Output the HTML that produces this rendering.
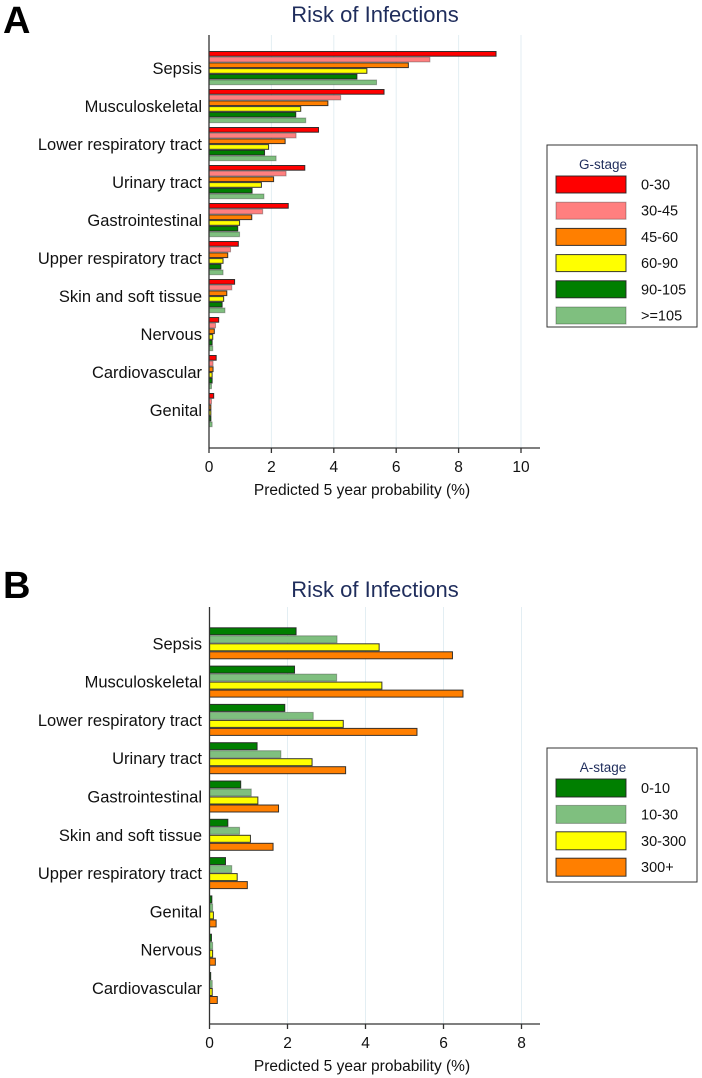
<!DOCTYPE html>
<html><head><meta charset="utf-8">
<style>
html,body{margin:0;padding:0;background:#fff;}
svg{display:block;font-family:"Liberation Sans",Arial,sans-serif;}
</style></head>
<body>
<svg id="c" width="702" height="1078" viewBox="0 0 702 1078" xmlns="http://www.w3.org/2000/svg"></svg>
<script>
// ---- Panel A data ----
const catsA = ["Sepsis","Musculoskeletal","Lower respiratory tract","Urinary tract","Gastrointestinal","Upper respiratory tract","Skin and soft tissue","Nervous","Cardiovascular","Genital"];
const seriesA = ["0-30","30-45","45-60","60-90","90-105",">=105"];
const g0_30   = [9.2,5.61,3.51,3.07,2.54,0.94,0.82,0.31,0.23,0.15];
const g30_45  = [7.08,4.22,2.79,2.47,1.72,0.69,0.73,0.21,0.13,0.08];
const g45_60  = [6.39,3.81,2.44,2.07,1.37,0.60,0.57,0.17,0.13,0.06];
const g60_90  = [5.06,2.94,1.91,1.68,0.98,0.45,0.47,0.12,0.10,0.06];
const g90_105 = [4.74,2.78,1.78,1.38,0.92,0.38,0.42,0.10,0.10,0.06];
const g105    = [5.37,3.10,2.15,1.76,0.98,0.45,0.51,0.12,0.08,0.10];
const ticksA = [0,2,4,6,8,10];
// ---- Panel B data ----
const catsB = ["Sepsis","Musculoskeletal","Lower respiratory tract","Urinary tract","Gastrointestinal","Skin and soft tissue","Upper respiratory tract","Genital","Nervous","Cardiovascular"];
const seriesB = ["0-10","10-30","30-300","300+"];
const a0_10   = [2.22,2.18,1.93,1.22,0.80,0.47,0.41,0.06,0.05,0.03];
const a10_30  = [3.27,3.26,2.66,1.83,1.07,0.77,0.57,0.08,0.08,0.07];
const a30_300 = [4.35,4.42,3.43,2.63,1.24,1.05,0.71,0.10,0.08,0.07];
const a300    = [6.23,6.50,5.32,3.49,1.77,1.63,0.97,0.17,0.15,0.20];
const ticksB = [0,2,4,6,8];

const NS="http://www.w3.org/2000/svg";
const svg=document.getElementById('c');
function mk(tag,attrs,parent){const e=document.createElementNS(NS,tag);for(const k in attrs)e.setAttribute(k,attrs[k]);(parent||svg).appendChild(e);return e;}

function panel(o){
  const g=mk('g',{});
  
  
  const x=v=>o.x0+v*o.ppu;
  const L=mk('text',{x:3,y:o.letterY,'font-size':38,'font-weight':'bold',fill:'#000'},g);
  L.textContent=o.letter;
  
  
  const T=mk('text',{x:375,y:o.titleY,'font-size':22,fill:'#1f2d5c','text-anchor':'middle'},g);
  T.textContent='Risk of Infections';
  
  
  o.ticks.forEach(t=>{
    if(t>0){const gl=mk('line',{x1:x(t),x2:x(t),y1:o.top,y2:o.axisY,stroke:'#e3eef3','stroke-width':1},g);
      
      }
  });
  o.series.forEach((vals,si)=>{
    vals.forEach((v,ci)=>{
      const y=o.groupStart+ci*o.groupStep+si*o.barH;
      const r=mk('rect',{x:x(0),y:y+0.5,width:Math.max(x(v)-x(0),0.5),height:o.barH-1,fill:o.colors[si],stroke:'#222','stroke-opacity':o.strokeOp[si],'stroke-width':1},g);
      
      
    });
  });
  o.cats.forEach((c,ci)=>{
    const cy=o.groupStart+ci*o.groupStep+o.series.length*o.barH/2;
    const t=mk('text',{x:202,y:cy+6,'font-size':16.5,fill:'#111','text-anchor':'end'},g);
    t.textContent=c;
    
    
  });
  const ya=mk('line',{x1:o.x0,x2:o.x0,y1:o.top,y2:o.axisY,stroke:'#333','stroke-width':1.3},g);
  
  
  const xa=mk('line',{x1:o.x0,x2:540,y1:o.axisY,y2:o.axisY,stroke:'#333','stroke-width':1.3},g);
  
  
  o.ticks.forEach(t=>{
    const tk=mk('line',{x1:x(t),x2:x(t),y1:o.axisY,y2:o.axisY+5,stroke:'#333','stroke-width':1.3},g);
    
    
    const tl=mk('text',{x:x(t),y:o.axisY+24,'font-size':15.5,fill:'#111','text-anchor':'middle'},g);
    tl.textContent=String(t);
    
    
  });
  const xt=mk('text',{x:362,y:o.axisY+47,'font-size':15.5,fill:'#111','text-anchor':'middle'},g);
  xt.textContent='Predicted 5 year probability (%)';
  
  
  const lg=mk('g',{},g);
  
  
  mk('rect',{x:547,y:o.legY,width:150,height:o.legH,fill:'#fff',stroke:'#333','stroke-width':1},lg);
  const lt=mk('text',{x:603,y:o.legY+24,'font-size':13.5,fill:'#1f2d5c','text-anchor':'middle'},lg);
  lt.textContent=o.legTitle;
  
  
  o.names.forEach((n,i)=>{
    const yy=o.legY+31+i*o.legStep;
    const sw=mk('rect',{x:556,y:yy,width:70,height:o.swH,fill:o.colors[i],stroke:'#222','stroke-opacity':o.strokeOp[i],'stroke-width':1},lg);
    
    
    const tx=mk('text',{x:641,y:yy+o.swH/2+5,'font-size':14.5,fill:'#111'},lg);
    tx.textContent=n;
    
    
  });
}

panel({letter:'A',letterY:33,titleY:22,x0:209,ppu:31.2,top:35,axisY:448,
  groupStart:51,groupStep:38,barH:5.7,ticks:ticksA,cats:catsA,names:seriesA,
  series:[g0_30,g30_45,g45_60,g60_90,g90_105,g105],
  colors:['#ff0000','#ff7f7f','#ff7f00','#ffff00','#007f00','#7fbf7f'],
  strokeOp:[0.9,0.35,0.9,0.9,0.9,0.35],
  legY:145,legH:182,legStep:26.2,swH:17,legTitle:'G-stage'});
panel({letter:'B',letterY:598,titleY:597,x0:209.5,ppu:39,top:607,axisY:1024,
  groupStart:627.3,groupStep:38.3,barH:8,ticks:ticksB,cats:catsB,names:seriesB,
  series:[a0_10,a10_30,a30_300,a300],
  colors:['#007f00','#7fbf7f','#ffff00','#ff7f00'],
  strokeOp:[0.9,0.35,0.9,0.9],
  legY:748,legH:134,legStep:26.4,swH:18,legTitle:'A-stage'});
</script>
</body></html>
